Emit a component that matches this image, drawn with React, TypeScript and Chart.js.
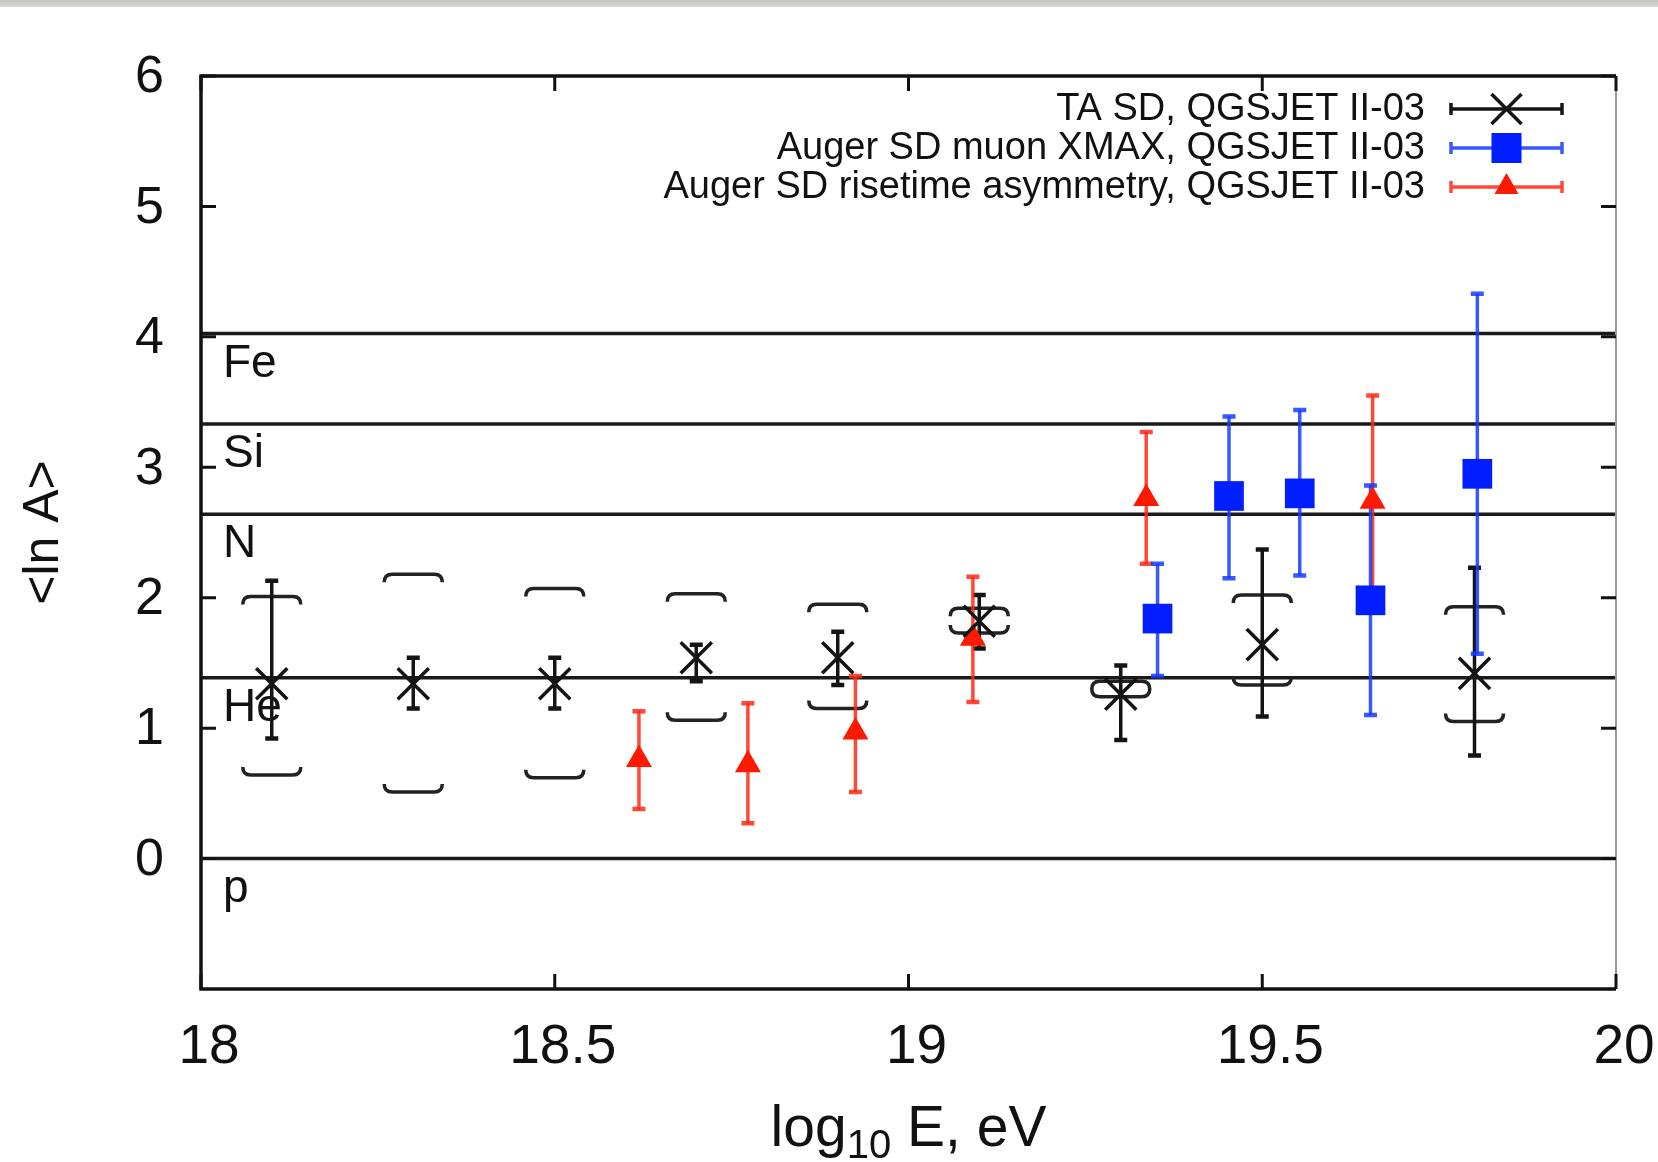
import React, { useEffect, useRef } from 'react';
import { Chart, registerables } from 'chart.js';

Chart.register(...registerables);

const FONT = '"Liberation Sans", Arial, Helvetica, sans-serif';

// axis ticks
const xTickValues = [18, 18.5, 19, 19.5, 20];
const yTickValues = [0, 1, 2, 3, 4, 5, 6];

// composition reference lines (ln A)
const elementNames = ['p', 'He', 'N', 'Si', 'Fe'];
const elementLnA = [0, 1.386, 2.639, 3.332, 4.025];

// series names
const seriesNames = [
  'TA SD, QGSJET II-03',
  'Auger SD muon XMAX, QGSJET II-03',
  'Auger SD risetime asymmetry, QGSJET II-03',
];

// TA SD (black)
const taX = [18.1, 18.3, 18.5, 18.7, 18.9, 19.1, 19.3, 19.5, 19.8];
const taY = [1.34, 1.34, 1.34, 1.54, 1.54, 1.82, 1.26, 1.64, 1.42];
const taErrHi = [2.13, 1.54, 1.54, 1.64, 1.74, 2.02, 1.48, 2.37, 2.23];
const taErrLo = [0.92, 1.15, 1.15, 1.36, 1.33, 1.61, 0.91, 1.09, 0.79];
const taSysHi = [2.01, 2.18, 2.07, 2.03, 1.95, 1.92, 1.36, 2.02, 1.93];
const taSysLo = [0.64, 0.51, 0.62, 1.06, 1.15, 1.73, 1.24, 1.33, 1.05];

// Auger SD muon XMAX (blue)
const muX = [19.352, 19.453, 19.553, 19.653, 19.804];
const muY = [1.84, 2.78, 2.80, 1.98, 2.95];
const muErrHi = [2.26, 3.39, 3.44, 2.86, 4.33];
const muErrLo = [1.40, 2.15, 2.17, 1.10, 1.57];

// Auger SD risetime asymmetry (red)
const rtX = [18.619, 18.773, 18.925, 19.091, 19.336, 19.656];
const rtY = [0.76, 0.72, 0.97, 1.69, 2.76, 2.74];
const rtErrHi = [1.13, 1.19, 1.40, 2.16, 3.27, 3.55];
const rtErrLo = [0.38, 0.27, 0.51, 1.20, 2.26, 1.94];

const BLACK = '#141414';
const BLUE = 'rgb(0,30,255)';
const BLUE_BAR = 'rgba(20,60,255,0.85)';
const RED = 'rgb(255,25,0)';
const RED_BAR = 'rgba(255,40,20,0.85)';

function errBar(ctx: CanvasRenderingContext2D, x: number, yHi: number, yLo: number, color: string, lw: number, cap: number) {
  ctx.save();
  ctx.strokeStyle = color;
  ctx.lineWidth = lw;
  ctx.beginPath();
  ctx.moveTo(x, yHi);
  ctx.lineTo(x, yLo);
  ctx.stroke();
  ctx.lineWidth = lw + 1;
  ctx.beginPath();
  ctx.moveTo(x - cap / 2, yHi);
  ctx.lineTo(x + cap / 2, yHi);
  ctx.moveTo(x - cap / 2, yLo);
  ctx.lineTo(x + cap / 2, yLo);
  ctx.stroke();
  ctx.restore();
}

function bracket(ctx: CanvasRenderingContext2D, x: number, y: number, halfW: number, dir: number) {
  const curl = 8;
  ctx.beginPath();
  ctx.moveTo(x - halfW, y + dir * curl);
  ctx.quadraticCurveTo(x - halfW, y, x - halfW + curl, y);
  ctx.lineTo(x + halfW - curl, y);
  ctx.quadraticCurveTo(x + halfW, y, x + halfW, y + dir * curl);
  ctx.stroke();
}

const decorPlugin = {
  id: 'decor',
  beforeDraw(chart: any) {
    const ctx = chart.ctx as CanvasRenderingContext2D;
    ctx.save();
    ctx.fillStyle = '#ffffff';
    ctx.fillRect(0, 0, chart.width, chart.height);
    const g = ctx.createLinearGradient(0, 0, 0, 7);
    g.addColorStop(0, '#c4c4c0');
    g.addColorStop(1, '#d8d8d5');
    ctx.fillStyle = g;
    ctx.fillRect(0, 0, chart.width, 7);
    ctx.restore();
  },
  beforeDatasetsDraw(chart: any) {
    const ctx = chart.ctx as CanvasRenderingContext2D;
    const xs = chart.scales.x;
    const ys = chart.scales.y;
    const { left, right, top, bottom } = chart.chartArea;
    ctx.save();

    // element lines and labels
    ctx.strokeStyle = '#1a1a1a';
    ctx.lineWidth = 3.5;
    elementLnA.forEach((v, i) => {
      const py = ys.getPixelForValue(v);
      ctx.beginPath();
      ctx.moveTo(left, py);
      ctx.lineTo(right, py);
      ctx.stroke();
      ctx.fillStyle = '#111';
      ctx.font = `46px ${FONT}`;
      ctx.textAlign = 'left';
      ctx.textBaseline = 'alphabetic';
      ctx.fillText(elementNames[i], left + 22, py + 43);
    });

    // frame
    ctx.strokeStyle = '#111';
    ctx.lineWidth = 3.5;
    ctx.beginPath();
    ctx.moveTo(right, top);
    ctx.lineTo(left, top);
    ctx.lineTo(left, bottom);
    ctx.lineTo(right, bottom);
    ctx.stroke();
    ctx.strokeStyle = '#9a9a9a';
    ctx.lineWidth = 2;
    ctx.beginPath();
    ctx.moveTo(right, top);
    ctx.lineTo(right, bottom);
    ctx.stroke();

    // inward ticks
    ctx.strokeStyle = '#111';
    ctx.lineWidth = 3;
    const tl = 15;
    ctx.beginPath();
    yTickValues.forEach((v) => {
      const py = ys.getPixelForValue(v);
      ctx.moveTo(left, py);
      ctx.lineTo(left + tl, py);
      ctx.moveTo(right, py);
      ctx.lineTo(right - tl, py);
    });
    xTickValues.forEach((v) => {
      const px = xs.getPixelForValue(v);
      ctx.moveTo(px, top);
      ctx.lineTo(px, top + tl);
      ctx.moveTo(px, bottom);
      ctx.lineTo(px, bottom - tl);
    });
    ctx.stroke();

    // systematic brackets (TA)
    ctx.strokeStyle = '#222';
    ctx.lineWidth = 3.5;
    taX.forEach((x, i) => {
      const px = xs.getPixelForValue(x);
      bracket(ctx, px, ys.getPixelForValue(taSysHi[i]), 29, 1);
      bracket(ctx, px, ys.getPixelForValue(taSysLo[i]), 29, -1);
    });

    // error bars
    taX.forEach((x, i) => {
      errBar(ctx, xs.getPixelForValue(x), ys.getPixelForValue(taErrHi[i]), ys.getPixelForValue(taErrLo[i]), BLACK, 3.5, 13);
    });
    rtX.forEach((x, i) => {
      errBar(ctx, xs.getPixelForValue(x), ys.getPixelForValue(rtErrHi[i]), ys.getPixelForValue(rtErrLo[i]), RED_BAR, 3.5, 13);
    });
    muX.forEach((x, i) => {
      errBar(ctx, xs.getPixelForValue(x), ys.getPixelForValue(muErrHi[i]), ys.getPixelForValue(muErrLo[i]), BLUE_BAR, 3.5, 13);
    });

    ctx.restore();
  },
  afterDraw(chart: any) {
    const ctx = chart.ctx as CanvasRenderingContext2D;
    const xs = chart.scales.x;
    ctx.save();

    // legend
    const textRight = 1425;
    const lineL = 1451;
    const lineR = 1562;
    const mid = (lineL + lineR) / 2;
    const rows = [109, 148, 187];
    const colors = [BLACK, BLUE_BAR, RED_BAR];
    ctx.font = `38px ${FONT}`;
    ctx.textAlign = 'right';
    ctx.textBaseline = 'middle';
    seriesNames.forEach((name, i) => {
      const y = rows[i];
      ctx.fillStyle = '#111';
      ctx.fillText(name, textRight, y + 1);
      ctx.strokeStyle = colors[i];
      ctx.lineWidth = 3.5;
      ctx.beginPath();
      ctx.moveTo(lineL, y);
      ctx.lineTo(lineR, y);
      ctx.moveTo(lineL, y - 6);
      ctx.lineTo(lineL, y + 6);
      ctx.moveTo(lineR, y - 6);
      ctx.lineTo(lineR, y + 6);
      ctx.stroke();
      if (i === 0) {
        ctx.strokeStyle = BLACK;
        ctx.lineWidth = 3.5;
        ctx.beginPath();
        ctx.moveTo(mid - 15, y - 15);
        ctx.lineTo(mid + 15, y + 15);
        ctx.moveTo(mid + 15, y - 15);
        ctx.lineTo(mid - 15, y + 15);
        ctx.stroke();
      } else if (i === 1) {
        ctx.fillStyle = BLUE;
        ctx.fillRect(mid - 15, y - 15, 30, 30);
      } else {
        ctx.fillStyle = RED;
        ctx.beginPath();
        ctx.moveTo(mid, y - 14);
        ctx.lineTo(mid + 12, y + 7);
        ctx.lineTo(mid - 12, y + 7);
        ctx.closePath();
        ctx.fill();
      }
    });

    // x-axis title with subscript
    const main1 = 'log';
    const sub = '10';
    const main2 = ' E, eV';
    const fMain = `57px ${FONT}`;
    const fSub = `40px ${FONT}`;
    ctx.font = fMain;
    const w1 = ctx.measureText(main1).width;
    const w3 = ctx.measureText(main2).width;
    ctx.font = fSub;
    const w2 = ctx.measureText(sub).width;
    const total = w1 + w2 + w3;
    const cx = (xs.left + xs.right) / 2;
    let x0 = cx - total / 2;
    const base = 1146;
    ctx.fillStyle = '#111';
    ctx.textAlign = 'left';
    ctx.textBaseline = 'alphabetic';
    ctx.font = fMain;
    ctx.fillText(main1, x0, base);
    x0 += w1;
    ctx.font = fSub;
    ctx.fillText(sub, x0, base + 12);
    x0 += w2;
    ctx.font = fMain;
    ctx.fillText(main2, x0, base);

    ctx.restore();
  },
};

export default function App() {
  const ref = useRef<HTMLCanvasElement | null>(null);

  useEffect(() => {
    if (!ref.current) return;
    const chart = new Chart(ref.current, {
      type: 'scatter',
      data: {
        datasets: [
          {
            label: seriesNames[0],
            data: taX.map((x, i) => ({ x, y: taY[i] })),
            pointStyle: 'crossRot',
            pointRadius: 22,
            borderColor: BLACK,
            backgroundColor: BLACK,
            borderWidth: 3.5,
          },
          {
            label: seriesNames[1],
            data: muX.map((x, i) => ({ x, y: muY[i] })),
            pointStyle: 'rect',
            pointRadius: 21,
            borderColor: BLUE,
            backgroundColor: BLUE,
            borderWidth: 0,
          },
          {
            label: seriesNames[2],
            data: rtX.map((x, i) => ({ x, y: rtY[i] })),
            pointStyle: 'triangle',
            pointRadius: 15,
            borderColor: RED,
            backgroundColor: RED,
            borderWidth: 0,
          },
        ],
      },
      options: {
        animation: false,
        responsive: false,
        devicePixelRatio: 1,
        layout: { padding: { top: 76, right: 42, left: 0, bottom: 0 } },
        plugins: {
          legend: { display: false },
          tooltip: { enabled: false },
        },
        scales: {
          x: {
            type: 'linear',
            min: 18,
            max: 20,
            grid: { display: false, drawTicks: true, tickLength: 26 },
            border: { display: false },
            ticks: {
              stepSize: 0.5,
              color: '#111',
              font: { family: FONT, size: 55 },
              padding: 0,
              labelOffset: 8,
              maxRotation: 0,
              autoSkip: false,
              callback: (v: any) => String(Number(v)),
            },
            afterFit: (s: any) => {
              s.height = 173;
            },
          },
          y: {
            type: 'linear',
            min: -1,
            max: 6,
            grid: { display: false, drawTicks: false },
            border: { display: false },
            ticks: {
              stepSize: 1,
              color: '#111',
              font: { family: FONT, size: 52 },
              padding: 37,
              labelOffset: 2,
              callback: (v: any) => (Number(v) < 0 ? '' : String(v)),
            },
            title: {
              display: true,
              text: '<ln A>',
              color: '#111',
              font: { family: FONT, size: 50 },
              padding: { top: 14, bottom: 0 },
            },
            afterFit: (s: any) => {
              s.width = 201;
            },
          },
        },
      } as any,
      plugins: [decorPlugin],
    });
    return () => chart.destroy();
  }, []);

  return (
    <div style={{ position: 'absolute', left: 0, top: 0, width: 1658, height: 1162, background: '#fff' }}>
      <canvas ref={ref} width={1658} height={1162} style={{ display: 'block', width: 1658, height: 1162 }} />
    </div>
  );
}
